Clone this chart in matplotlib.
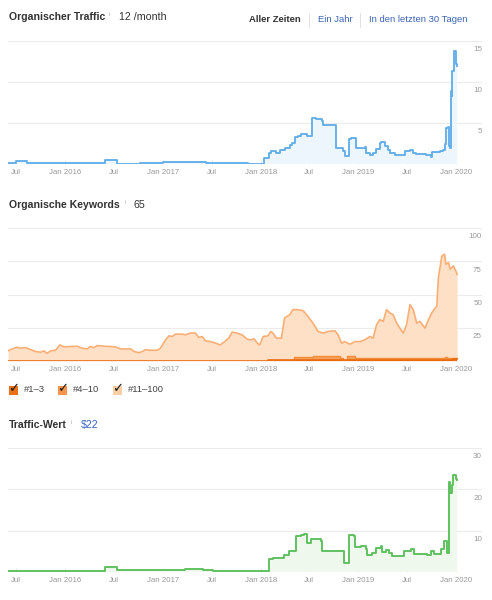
import numpy as np
import pandas as pd
import matplotlib
matplotlib.use("Agg")
import matplotlib.pyplot as plt
import matplotlib.dates as mdates

plt.rcParams['font.family'] = ['Liberation Sans', 'DejaVu Sans']

# --- Organischer Traffic (pro Monat) ---
traffic_dates = ['2015-06-01', '2015-07-01', '2015-08-11', '2016-05-29', '2016-07-14', '2016-10-06',
                 '2017-01-01', '2017-03-22', '2017-05-17', '2017-06-11', '2017-07-06', '2017-09-19',
                 '2017-11-14', '2018-01-12', '2018-01-31', '2018-02-10', '2018-02-22', '2018-02-28',
                 '2018-03-13', '2018-04-01', '2018-04-19', '2018-04-26', '2018-05-10', '2018-05-20',
                 '2018-06-02', '2018-06-14', '2018-06-21', '2018-07-13', '2018-07-28', '2018-08-16',
                 '2018-08-22', '2018-10-11', '2018-11-05', '2018-11-11', '2018-11-27', '2018-12-06',
                 '2018-12-22', '2019-01-18', '2019-01-24', '2019-01-31', '2019-02-12', '2019-02-25',
                 '2019-03-09', '2019-03-21', '2019-03-28', '2019-04-09', '2019-04-22', '2019-04-28',
                 '2019-05-16', '2019-06-23', '2019-07-12', '2019-07-24', '2019-08-05', '2019-09-12',
                 '2019-09-30', '2019-10-04', '2019-11-01', '2019-11-13', '2019-11-19', '2019-11-25',
                 '2019-12-02', '2019-12-04', '2019-12-08', '2019-12-12', '2019-12-15', '2019-12-18',
                 '2019-12-23', '2019-12-25', '2019-12-30', '2020-01-05']
traffic_vals = [0.1, 0.4, 0.1, 0.5, 0.05, 0.15,
                0.25, 0.3, 0.2, 0.15, 0.1, 0.08,
                0.05, 0.7, 1.35, 1.6, 1.55, 1.4,
                1.75, 1.95, 2.35, 2.6, 3.3, 3.4,
                3.6, 3.7, 3.4, 5.6, 5.5, 5.2,
                4.7, 1.95, 1.55, 0.95, 3.05, 3.2,
                1.95, 1.9, 2.05, 1.4, 1.1, 1.35,
                1.85, 2.55, 2.7, 2.15, 1.7, 1.4,
                1.1, 1.55, 1.75, 1.4, 1.2, 1.1,
                0.9, 1.5, 1.55, 1.75, 2.4, 4.4,
                4.5, 2.15, 2.0, 8.9, 8.3, 11.3,
                11.5, 13.8, 12.2, 12.0]

# --- Organische Keywords: Top 100 (gesamt), Top 10, Top 3 ---
kw_dates = ['2015-06-01', '2015-06-16', '2015-07-05', '2015-07-17', '2015-08-05', '2015-08-24',
            '2015-09-12', '2015-10-01', '2015-10-13', '2015-10-25', '2015-11-07', '2015-11-26',
            '2015-12-12', '2015-12-27', '2016-01-21', '2016-02-15', '2016-03-05', '2016-03-24',
            '2016-04-03', '2016-04-18', '2016-04-30', '2016-05-25', '2016-06-19', '2016-07-07',
            '2016-07-26', '2016-09-02', '2016-09-14', '2016-10-03', '2016-10-15', '2016-10-27',
            '2016-11-09', '2016-12-10', '2016-12-22', '2017-01-10', '2017-01-23', '2017-02-04',
            '2017-02-16', '2017-03-13', '2017-03-26', '2017-04-13', '2017-05-02', '2017-05-14',
            '2017-05-27', '2017-06-08', '2017-06-27', '2017-07-16', '2017-08-03', '2017-08-16',
            '2017-09-03', '2017-09-16', '2017-10-04', '2017-10-23', '2017-11-11', '2017-11-24',
            '2017-12-07', '2017-12-19', '2017-12-28', '2018-01-10', '2018-01-28', '2018-02-07',
            '2018-02-16', '2018-02-28', '2018-03-19', '2018-03-31', '2018-04-19', '2018-05-01',
            '2018-05-20', '2018-06-08', '2018-06-26', '2018-07-15', '2018-08-03', '2018-08-22',
            '2018-09-10', '2018-10-05', '2018-10-17', '2018-10-30', '2018-11-11', '2018-11-30',
            '2018-12-19', '2019-01-07', '2019-01-25', '2019-02-13', '2019-02-25', '2019-03-10',
            '2019-03-22', '2019-04-04', '2019-04-16', '2019-04-29', '2019-05-11', '2019-05-24',
            '2019-06-05', '2019-06-18', '2019-06-30', '2019-07-13', '2019-07-25', '2019-08-07',
            '2019-08-19', '2019-09-07', '2019-09-20', '2019-10-02', '2019-10-15', '2019-10-21',
            '2019-10-27', '2019-11-09', '2019-11-19', '2019-11-24', '2019-12-04', '2019-12-10',
            '2019-12-22', '2019-12-31', '2020-01-05']
kw_top100 = [7.6, 9.1, 10.4, 9.6, 10.1, 8.6,
             7.1, 6.6, 7.6, 5.8, 7.6, 8.1,
             12.1, 10.6, 10.9, 11.1, 9.6, 9.1,
             10.9, 10.1, 11.6, 11.1, 10.9, 10.6,
             9.1, 9.1, 7.1, 6.3, 7.1, 8.6,
             8.1, 8.1, 9.6, 15.9, 18.9, 18.4,
             20.2, 20.2, 19.7, 21.0, 21.0, 17.7,
             18.4, 15.2, 14.6, 13.4, 12.1, 14.1,
             17.2, 21.7, 21.0, 19.7, 16.4, 15.9,
             16.7, 13.4, 12.1, 18.4, 18.9, 22.2,
             21.0, 17.2, 17.2, 32.3, 34.8, 38.6,
             38.6, 37.9, 33.6, 28.5, 22.2, 21.0,
             22.2, 22.7, 19.7, 13.4, 14.6, 12.6,
             14.6, 14.6, 15.9, 18.4, 17.2, 27.3,
             31.1, 29.8, 38.6, 36.1, 34.8, 28.5,
             24.7, 21.0, 27.3, 42.4, 38.6, 28.5,
             29.8, 24.7, 31.1, 36.1, 39.9, 41.2,
             62.6, 79.0, 80.3, 72.7, 74.0, 68.9,
             71.5, 67.7, 65.2]

top10_dates = ['2015-06-01', '2018-01-20', '2018-01-28', '2018-05-06', '2018-07-15', '2018-10-12',
               '2018-10-25', '2018-11-06', '2018-11-18', '2018-12-07', '2018-12-19', '2019-05-20',
               '2019-06-01', '2019-11-12', '2019-11-22', '2019-11-30', '2019-12-19', '2020-01-05']
kw_top10 = [0, 0, 0.9, 2.8, 4.0, 4.0,
            2.5, 0.4, 3.8, 3.5, 2.5, 2.5,
            2.0, 2.0, 3.3, 2.0, 2.5, 2.5]

top3_dates = ['2015-06-01', '2018-01-20', '2018-01-28', '2019-11-22', '2019-12-19', '2020-01-05']
kw_top3 = [0, 0, 0.8, 1.0, 1.2, 1.2]

# --- Traffic-Wert (USD) ---
value_dates = ['2015-06-01', '2016-05-29', '2016-07-14', '2016-10-06', '2017-01-01', '2017-03-22',
               '2017-05-30', '2017-07-06', '2017-11-24', '2018-02-01', '2018-02-15', '2018-03-11',
               '2018-03-30', '2018-04-17', '2018-05-12', '2018-05-31', '2018-06-12', '2018-06-21',
               '2018-07-07', '2018-08-01', '2018-08-13', '2018-08-19', '2018-11-02', '2018-11-08',
               '2018-11-20', '2018-11-27', '2018-12-15', '2018-12-21', '2019-01-09', '2019-01-28',
               '2019-02-03', '2019-02-22', '2019-03-06', '2019-03-25', '2019-03-31', '2019-04-13',
               '2019-04-25', '2019-05-08', '2019-06-08', '2019-06-20', '2019-07-15', '2019-07-28',
               '2019-08-03', '2019-09-15', '2019-09-28', '2019-10-10', '2019-11-04', '2019-11-17',
               '2019-11-27', '2019-12-05', '2019-12-11', '2019-12-17', '2019-12-21', '2019-12-30',
               '2020-01-05']
value_vals = [0.3, 1.2, 0.4, 0.5, 0.55, 0.65,
              0.4, 0.25, 0.2, 3.2, 3.5, 3.4,
              4.0, 5.2, 8.6, 9.0, 9.3, 7.0,
              8.1, 8.1, 7.5, 5.1, 5.1, 2.2,
              2.2, 8.9, 8.7, 6.0, 6.3, 5.5,
              4.0, 4.6, 5.8, 6.2, 4.8, 5.4,
              4.6, 3.9, 3.8, 5.2, 5.6, 4.4,
              4.3, 4.0, 5.2, 4.4, 5.6, 7.5,
              4.6, 21.8, 19.0, 21.0, 23.4, 22.6,
              22.3]

tick_dates = ['2015-07-01', '2016-01-01', '2016-07-01', '2017-01-01', '2017-07-01',
              '2018-01-01', '2018-07-01', '2019-01-01', '2019-07-01', '2020-01-01']
tick_labels = ['Jul', 'Jan 2016', 'Jul', 'Jan 2017', 'Jul', 'Jan 2018', 'Jul', 'Jan 2019', 'Jul', 'Jan 2020']

W, H = 492, 600
fig = plt.figure(figsize=(W / 100, H / 100), dpi=100)
fig.patch.set_facecolor('white')


def box(x0, y_top, x1, y_bot):
    return [x0 / W, 1 - y_bot / H, (x1 - x0) / W, (y_bot - y_top) / H]


def fx(x, y):
    return x / W, 1 - y / H


def setup(ax, ymax, yticks):
    ax.set_xlim(pd.Timestamp('2015-06-01'), pd.Timestamp('2020-04-07'))
    ax.set_ylim(0, ymax)
    for s in ax.spines.values():
        s.set_visible(False)
    ax.set_yticks([0] + yticks)
    ax.yaxis.grid(True, color='#ebebeb', lw=0.8)
    ax.set_axisbelow(True)
    ax.tick_params(axis='y', left=False, labelleft=False)
    ax.set_xticks(pd.to_datetime(tick_dates))
    ax.set_xticklabels(tick_labels)
    ax.tick_params(axis='x', direction='in', length=3, width=0.6, color='#e0e0e0',
                   labelsize=5.7, labelcolor='#9a9a9a', pad=3.5)
    for v in yticks:
        ax.annotate(str(v), xy=(1.0, v), xycoords=('axes fraction', 'data'),
                    xytext=(0, -6.3), textcoords='offset points',
                    ha='right', va='center', fontsize=5.8, color='#9a9a9a')


def title(x, y, text, info_x, val_x, val, val_color):
    fig.text(*fx(x, y), text, fontsize=7.6, fontweight='bold', color='#333333', va='center')
    fig.text(*fx(info_x, y - 3), 'i', fontsize=4.2, color='#aaaaaa', va='center')
    fig.text(*fx(val_x, y), val, fontsize=7.7, color=val_color, va='center')


# Panel 1
ax1 = fig.add_axes(box(8, 41, 482, 164))
setup(ax1, 15, [5, 10, 15])
td = pd.to_datetime(traffic_dates)
ax1.fill_between(td, traffic_vals, step='post', color='#edf5fd', lw=0)
ax1.plot(td, traffic_vals, drawstyle='steps-post', color='#63aee9', lw=1.35)
title(9, 17.5, 'Organischer Traffic', 108.5, 119, '12 /month', '#333333')
fig.text(*fx(249, 20), 'Aller Zeiten', fontsize=6.8, fontweight='bold', color='#333333', va='center')
fig.text(*fx(318, 20), 'Ein Jahr', fontsize=6.8, color='#3a63b3', va='center')
fig.text(*fx(369, 20), 'In den letzten 30 Tagen', fontsize=6.8, color='#3a63b3', va='center')
for sx in [308.5, 359.5]:
    fig.add_artist(plt.Line2D([sx / W, sx / W], [1 - 13 / H, 1 - 27 / H], color='#e2e2e2', lw=0.7))

# Panel 2
ax2 = fig.add_axes(box(8, 228, 482, 361))
setup(ax2, 100, [25, 50, 75, 100])
kd = pd.to_datetime(kw_dates)
ax2.fill_between(kd, kw_top100, color='#fde0c6', lw=0)
ax2.plot(kd, kw_top100, color='#f9ae74', lw=1.2)
t10 = pd.to_datetime(top10_dates)
ax2.fill_between(t10, kw_top10, step='post', color='#f6a05a', lw=0)
ax2.plot(t10, kw_top10, drawstyle='steps-post', color='#f38d3a', lw=1.0)
t3 = pd.to_datetime(top3_dates)
ax2.fill_between(t3, kw_top3, step='post', color='#ea7114', lw=0)
ax2.plot(t3, kw_top3, drawstyle='steps-post', color='#e8680c', lw=1.1)
title(9, 205, 'Organische Keywords', 124.5, 134, '65', '#333333')

legend_items = [('#1–3', '#ea7114', 9, 24), ('#4–10', '#f7954a', 58, 73), ('#11–100', '#fbcfa3', 113, 128)]
for lab, col, bx, lx in legend_items:
    fig.add_artist(plt.Rectangle(fx(bx, 395), 9 / W, 9 / H, color=col, lw=0))
    fig.text(*fx(bx + 5, 388.5), '✓', fontsize=9.5, fontweight='bold', color='#1a1a1a',
             ha='center', va='center', family=['DejaVu Sans'])
    fig.text(*fx(lx, 389.5), lab, fontsize=6.8, color='#444444', va='center')

# Panel 3
ax3 = fig.add_axes(box(8, 448, 482, 572))
setup(ax3, 30, [10, 20, 30])
vd = pd.to_datetime(value_dates)
ax3.fill_between(vd, value_vals, step='post', color='#eef8ec', lw=0)
ax3.plot(vd, value_vals, drawstyle='steps-post', color='#5cbf5c', lw=1.35)
title(9, 425, 'Traffic-Wert', 70.5, 81, '$22', '#3a63c0')

fig.savefig('out.png', dpi=100, facecolor='white')
